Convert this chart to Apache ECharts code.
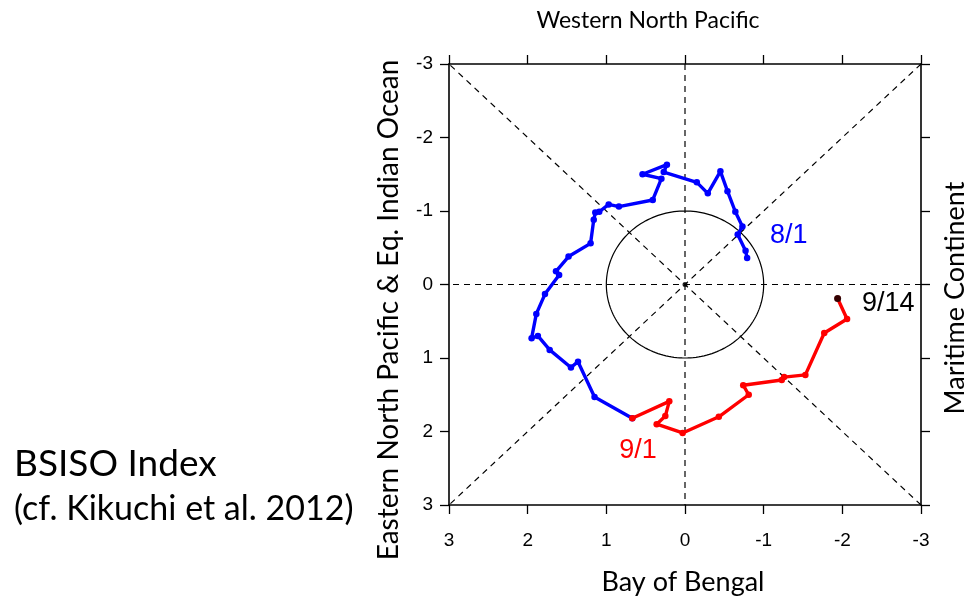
<!DOCTYPE html>
<html>
<head>
<meta charset="utf-8">
<script src="https://cdn.jsdelivr.net/npm/echarts@6/dist/echarts.min.js"></script>
<style>
  html, body { margin: 0; padding: 0; background: #ffffff; }
  #chart { width: 972px; height: 602px; }
</style>
</head>
<body>
<div id="chart"></div>
<script>
// BSISO phase-space trajectory: daily (PC1, PC2) pairs.
// August track (8/1 .. 9/1), drawn in blue
const augustPC1 = [-0.79, -0.77, -0.67, -0.73, -0.64, -0.54, -0.45, -0.29, -0.15, 0.27, 0.23, 0.54,
                   0.30, 0.41, 0.84, 0.97, 1.09, 1.14, 1.16, 1.20, 1.48, 1.64, 1.60, 1.78,
                   1.89, 1.95, 1.87, 1.72, 1.45, 1.36, 1.15, 0.67];
const augustPC2 = [-0.36, -0.46, -0.68, -0.79, -0.99, -1.27, -1.54, -1.24, -1.39, -1.53, -1.63, -1.50,
                   -1.44, -1.15, -1.06, -1.09, -0.99, -0.98, -0.88, -0.56, -0.38, -0.18, -0.13, 0.13,
                   0.40, 0.73, 0.70, 0.89, 1.13, 1.05, 1.53, 1.82];
// September track (9/1 .. 9/14), drawn in red
const septemberPC1 = [0.67, 0.20, 0.25, 0.36, 0.03, -0.43, -0.81, -0.74, -1.23, -1.26, -1.53, -1.77, -2.06, -1.94];
const septemberPC2 = [1.82, 1.59, 1.79, 1.90, 2.02, 1.80, 1.50, 1.37, 1.30, 1.26, 1.23, 0.66, 0.47, 0.19];

const axisMin = -3;
const axisMax = 3;
const tickStep = 1;

// Phase-diagram guide lines: axes through the origin and the two diagonals
const guideLines = [
  [[axisMin, 0], [axisMax, 0]],
  [[0, axisMin], [0, axisMax]],
  [[axisMin, axisMin], [axisMax, axisMax]],
  [[axisMin, axisMax], [axisMax, axisMin]]
];

const zip = (xs, ys) => xs.map((x, i) => [x, ys[i]]);
const augustTrack = zip(augustPC1, augustPC2);
const septemberTrack = zip(septemberPC1, septemberPC2);
const lastDay = septemberTrack[septemberTrack.length - 1];

const sansFont = '"Liberation Sans", Arial, sans-serif';
const titleFont = 'Lato, "Open Sans", sans-serif';

const chart = echarts.init(document.getElementById('chart'), null, { renderer: 'canvas' });

const baseAxis = {
  type: 'value',
  min: axisMin,
  max: axisMax,
  interval: tickStep,
  inverse: true,
  splitLine: { show: false },
  axisLine: { show: true, onZero: false, lineStyle: { color: '#000', width: 1.6 } },
  axisTick: { show: true, length: 9, lineStyle: { color: '#000', width: 1.3 } }
};

const guideSeries = guideLines.map(seg => ({
  type: 'line',
  data: seg,
  symbol: 'none',
  silent: true,
  z: 1,
  lineStyle: { color: '#000', width: 1.2, type: [6, 5] }
}));

chart.setOption({
  animation: false,
  backgroundColor: '#ffffff',
  grid: { left: 449, top: 64, width: 472, height: 441, containLabel: false },
  xAxis: [
    Object.assign({}, baseAxis, {
      position: 'bottom',
      axisLabel: { margin: 26, fontFamily: sansFont, fontSize: 19, color: '#000' }
    }),
    Object.assign({}, baseAxis, {
      position: 'top',
      axisLabel: { show: false }
    })
  ],
  yAxis: [
    Object.assign({}, baseAxis, {
      position: 'left',
      axisLabel: { margin: 16, fontFamily: sansFont, fontSize: 19, color: '#000' }
    }),
    Object.assign({}, baseAxis, {
      position: 'right',
      axisLabel: { show: false }
    })
  ],
  series: guideSeries.concat([
    {
      // unit amplitude circle
      type: 'custom',
      silent: true,
      z: 2,
      data: [[0, 0]],
      renderItem: function (params, api) {
        const pts = [];
        for (let i = 0; i <= 180; i++) {
          const a = (i / 180) * Math.PI * 2;
          pts.push(api.coord([Math.cos(a), Math.sin(a)]));
        }
        return {
          type: 'polyline',
          shape: { points: pts },
          style: { stroke: '#000', fill: null, lineWidth: 1.2 }
        };
      }
    },
    {
      type: 'scatter',
      data: [[0, 0]],
      symbolSize: 5,
      itemStyle: { color: '#000' },
      silent: true,
      z: 3
    },
    {
      name: 'August',
      type: 'line',
      data: augustTrack,
      symbol: 'circle',
      symbolSize: 6.5,
      showSymbol: true,
      z: 4,
      lineStyle: { color: '#0000ff', width: 3.4 },
      itemStyle: { color: '#0000ff' }
    },
    {
      name: 'September',
      type: 'line',
      data: septemberTrack,
      symbol: 'circle',
      symbolSize: 6.5,
      showSymbol: true,
      z: 5,
      lineStyle: { color: '#ff0000', width: 3.4 },
      itemStyle: { color: '#ff0000' }
    },
    {
      type: 'scatter',
      data: [lastDay],
      symbolSize: 7,
      itemStyle: { color: '#000' },
      z: 6
    }
  ]),
  graphic: [
    { type: 'text', style: { text: 'Western North Pacific', x: 648, y: 21, align: 'center', verticalAlign: 'middle', font: '23px ' + titleFont, fill: '#000' } },
    { type: 'text', style: { text: 'Bay of Bengal', x: 683, y: 582, align: 'center', verticalAlign: 'middle', font: '27px ' + titleFont, fill: '#000' } },
    { type: 'text', x: 389, y: 310, rotation: Math.PI / 2, style: { text: 'Eastern North Pacific & Eq. Indian Ocean', x: 0, y: 0, align: 'center', verticalAlign: 'middle', font: '28px ' + titleFont, fill: '#000' } },
    { type: 'text', x: 955, y: 298, rotation: Math.PI / 2, style: { text: 'Maritime Continent', x: 0, y: 0, align: 'center', verticalAlign: 'middle', font: '27px ' + titleFont, fill: '#000' } },
    { type: 'text', style: { text: 'BSISO Index', x: 14, y: 464, align: 'left', verticalAlign: 'middle', font: '37px ' + titleFont, fill: '#000' } },
    { type: 'text', style: { text: '(cf. Kikuchi et al. 2012)', x: 14, y: 509, align: 'left', verticalAlign: 'middle', font: '34px ' + titleFont, fill: '#000' } },
    { type: 'text', style: { text: '8/1', x: 770, y: 236, align: 'left', verticalAlign: 'middle', font: '27px ' + sansFont, fill: '#0000ff' } },
    { type: 'text', style: { text: '9/1', x: 638, y: 451, align: 'center', verticalAlign: 'middle', font: '27px ' + sansFont, fill: '#ff0000' } },
    { type: 'text', style: { text: '9/14', x: 862, y: 304, align: 'left', verticalAlign: 'middle', font: '27px ' + sansFont, fill: '#000' } }
  ]
});
</script>
</body>
</html>
